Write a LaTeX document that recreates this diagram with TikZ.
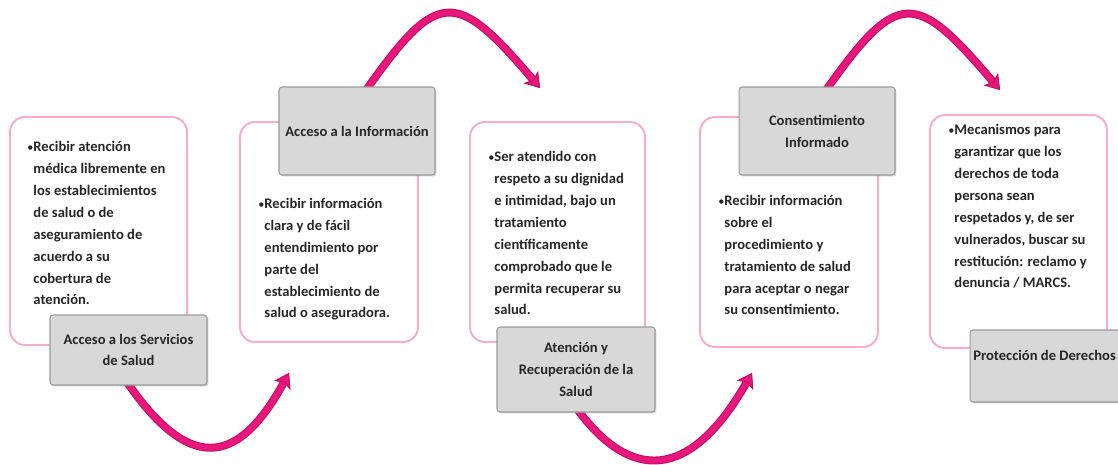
\documentclass[tikz,border=0pt]{standalone}
\usepackage{fontspec}
\setmainfont{Carlito}
\usetikzlibrary{arrows.meta,calc,shadows}
\definecolor{boxpink}{HTML}{F6ACCD}
\definecolor{arrowpink}{HTML}{E8177D}
\definecolor{arrowdark}{HTML}{C20F5B}
\definecolor{graybox}{HTML}{D8D8D8}
\definecolor{grayline}{HTML}{9C9C9C}
\newcommand\mybul{{\mdseries\fontsize{7pt}{7pt}\selectfont•}}
\newcommand\myind{\phantom{\mybul}}
\begin{document}
\begin{tikzpicture}[x=0.02cm,y=-0.02cm,
  txt/.style={font=\fontsize{8.3pt}{12.45pt}\selectfont\bfseries, text=black!85, inner sep=0pt},
  pinkbox/.style={draw=boxpink, line width=1.1pt, rounded corners=0.3cm, fill=white, inner sep=0pt},
  graylabel/.style={draw=grayline, line width=0.6pt, fill=graybox, rounded corners=0.06cm,
    drop shadow={shadow xshift=0.03cm, shadow yshift=-0.03cm, opacity=0.35},
    font=\fontsize{8.3pt}{12.45pt}\selectfont\bfseries, text=black!85, align=center, inner sep=0pt},
  arr/.style={draw=arrowpink, line width=3.3pt,
    -{Stealth[length=8pt,width=10.5pt,inset=2pt,fill=arrowpink,color=arrowdark,line width=0.5pt]},
    preaction={draw=arrowdark, line width=4.5pt,
    -{Stealth[length=8pt,width=10.5pt,inset=2pt,fill=arrowdark,color=arrowdark,line width=0.5pt]}}}
]
\useasboundingbox (0,0) rectangle (1118,465);
\fill[white] (0,0) rectangle (1118,465);
\clip (0,0) rectangle (1118,465);

% content boxes
\node[pinkbox, minimum width=3.54cm, minimum height=4.56cm] (b1) at (98.5,231) {};
\node[pinkbox, minimum width=3.56cm, minimum height=4.40cm] (b2) at (329,232) {};
\node[pinkbox, minimum width=3.50cm, minimum height=4.40cm] (b3) at (557.5,232) {};
\node[pinkbox, minimum width=3.56cm, minimum height=4.60cm] (b4) at (789,232) {};
\node[pinkbox, minimum width=3.54cm, minimum height=4.66cm] (b5) at (1018.5,231.5) {};

% texts (base = baseline of the last line)
\node[txt, anchor=base west, align=left] (t1) at (27,305) {\mybul Recibir atención\\\myind médica libremente en\\\myind los establecimientos\\\myind de salud o de\\\myind aseguramiento de\\\myind acuerdo a su\\\myind cobertura de\\\myind atención.};
\node[txt, anchor=base west, align=left] (t2) at (258,318) {\mybul Recibir información\\\myind clara y de fácil\\\myind entendimiento por\\\myind parte del\\\myind establecimiento de\\\myind salud o aseguradora.};
\node[txt, anchor=base west, align=left] (t3) at (488,315) {\mybul Ser atendido con\\\myind respeto a su dignidad\\\myind e intimidad, bajo un\\\myind tratamiento\\\myind científicamente\\\myind comprobado que le\\\myind permita recuperar su\\\myind salud.};
\node[txt, anchor=base west, align=left] (t4) at (718,315) {\mybul Recibir información\\\myind sobre el\\\myind procedimiento y\\\myind tratamiento de salud\\\myind para aceptar o negar\\\myind su consentimiento.};
\node[txt, anchor=base west, align=left] (t5) at (948,288) {\mybul Mecanismos para\\\myind garantizar que los\\\myind derechos de toda\\\myind persona sean\\\myind respetados y, de ser\\\myind vulnerados, buscar su\\\myind restitución: reclamo y\\\myind denuncia / MARCS.};

% arrow end points
\coordinate (e1) at (540,88);
\coordinate (e2) at (289,373);
\coordinate (e3) at (752,373);
\coordinate (e4) at (1000,90);

% gray label positions (for arrow starts)
\path (128.5,350) coordinate (c1) (357,131) coordinate (c2) (576,369.5) coordinate (c3) (817,131) coordinate (c4);

% arrows (behind labels)
\draw[arr] ($(c1)+(-3,30)$) .. controls (187,470) and (236,470) .. (e2);
\draw[arr] ($(c2)+(7,-38)$) .. controls (438,-12) and (455,-12) .. (e1);
\draw[arr] ($(c3)+(0,38)$) .. controls (630,482) and (690,482) .. (e3);
\draw[arr] ($(c4)+(7,-38)$) .. controls (898,-12) and (915,-10) .. (e4);

% gray labels
\node[graylabel, minimum width=3.14cm, minimum height=1.40cm] (g1) at (c1) {Acceso a los Servicios\\de Salud};
\node[graylabel, minimum width=3.12cm, minimum height=1.76cm] (g2) at (c2) {Acceso a la Información};
\node[graylabel, minimum width=3.16cm, minimum height=1.70cm] (g3) at (c3) {Atención y\\Recuperación de la\\Salud};
\node[graylabel, minimum width=3.12cm, minimum height=1.76cm] (g4) at (c4) {Consentimiento\\Informado};
\node[graylabel, minimum width=3.20cm, minimum height=1.44cm] (g5) at (1050,366) {};
\node[txt, anchor=base west] (l5) at (973,361) {Protección de Derechos};
\end{tikzpicture}
\end{document}
